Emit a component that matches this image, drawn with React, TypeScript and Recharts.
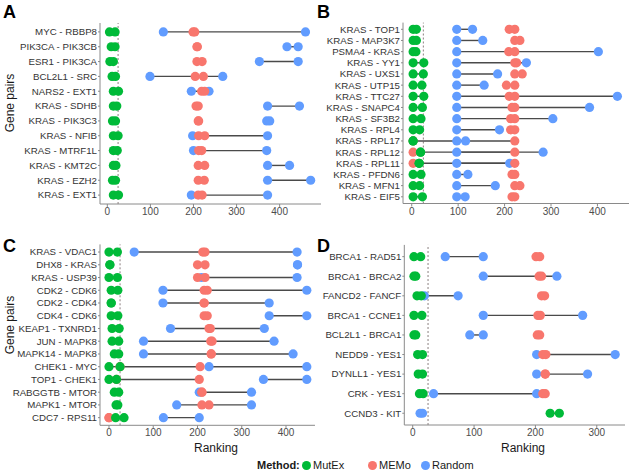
import React from 'react';
import { ScatterChart, Scatter, XAxis, YAxis, ReferenceLine, ErrorBar } from 'recharts';

type Pair = [number, number] | null;

// panel A
const aLabels = ['MYC - RBBP8', 'PIK3CA - PIK3CB', 'ESR1 - PIK3CA', 'BCL2L1 - SRC', 'NARS2 - EXT1', 'KRAS - SDHB',
  'KRAS - PIK3C3', 'KRAS - NFIB', 'KRAS - MTRF1L', 'KRAS - KMT2C', 'KRAS - EZH2', 'KRAS - EXT1'];
const aMutEx: Pair[] = [[5, 18], [9, 18], [6, 14], [11, 19], [14, 26], [14, 22], [12, 19], [14, 25], [14, 23], [14, 20], [12, 19], [14, 26]];
const aMEMo: Pair[] = [[199, 203], [208, 209], [208, 220], [204, 223], [219, 226], [206, 211], [211, 212], [212, 226], [212, 219], [211, 226], [211, 225], [211, 220]];
const aRandom: Pair[] = [[130, 460], [417, 443], [353, 443], [99, 268], [195, 236], [372, 446], [370, 377], [198, 372], [200, 370], [372, 423], [372, 472], [195, 372]];

// panel B
const bLabels = ['KRAS - TOP1', 'KRAS - MAP3K7', 'PSMA4 - KRAS', 'KRAS - YY1', 'KRAS - UXS1', 'KRAS - UTP15', 'KRAS - TTC27',
  'KRAS - SNAPC4', 'KRAS - SF3B2', 'KRAS - RPL4', 'KRAS - RPL17', 'KRAS - RPL12', 'KRAS - RPL11', 'KRAS - PFDN6', 'KRAS - MFN1', 'KRAS - EIF5'];
const bMutEx: Pair[] = [[3, 10], [3, 10], [3, 9], [3, 26], [3, 25], [3, 22], [3, 26], [3, 23], [3, 20], [3, 17], [3, 3], [19, 19], [16, 16], [3, 20], [3, 17], [3, 23]];
const bMEMo: Pair[] = [[210, 222], [222, 233], [209, 222], [222, 226], [222, 238], [204, 222], [210, 222], [216, 222], [213, 222], [213, 222], [3, 222], [3, 222], [3, 222], [216, 222], [222, 233], [216, 222]];
const bRandom: Pair[] = [[97, 131], [97, 153], [97, 402], [97, 247], [97, 185], [97, 156], [97, 443], [97, 383], [97, 304], [97, 189], [97, 116], [97, 283], [97, 211], [97, 121], [97, 180], [97, 115]];

// panel C
const cLabels = ['KRAS - VDAC1', 'DHX8 - KRAS', 'KRAS - USP39', 'CDK2 - CDK6', 'CDK2 - CDK4', 'CDK4 - CDK6', 'KEAP1 - TXNRD1',
  'JUN - MAPK8', 'MAPK14 - MAPK8', 'CHEK1 - MYC', 'TOP1 - CHEK1', 'RABGGTB - MTOR', 'MAPK1 - MTOR', 'CDC7 - RPS11'];
const cMutEx: Pair[] = [[0, 19], [2, 2], [0, 19], [5, 20], [5, 5], [5, 20], [7, 23], [7, 22], [12, 22], [0, 25], [0, 17], [12, 22], [16, 20], [15, 34]];
const cMEMo: Pair[] = [[212, 217], [200, 217], [200, 217], [215, 222], [215, 215], [215, 222], [226, 229], [230, 233], [231, 231], [25, 206], [17, 204], [210, 210], [210, 226], [0, 0]];
const cRandom: Pair[] = [[57, 425], [426, 426], [209, 425], [122, 447], [122, 362], [362, 447], [139, 351], [78, 373], [78, 416], [226, 447], [349, 447], [204, 322], [153, 322], [123, 204]];

// panel D
const dLabels = ['BRCA1 - RAD51', 'BRCA1 - BRCA2', 'FANCD2 - FANCF', 'BRCA1 - CCNE1', 'BCL2L1 - BRCA1', 'NEDD9 - YES1',
  'DYNLL1 - YES1', 'CRK - YES1', 'CCND3 - KIT'];
const dMutEx: Pair[] = [[2, 13], [2, 5], [7, 14], [2, 15], [2, 5], [8, 16], [9, 16], [11, 17], [224, 239]];
const dMEMo: Pair[] = [[201, 207], [206, 210], [210, 215], [204, 208], [203, 207], [212, 217], [216, 216], [212, 216], null];
const dRandom: Pair[] = [[53, 115], [115, 235], [19, 74], [115, 277], [93, 115], [202, 330], [202, 285], [34, 202], [12, 16]];

const xTicks = [0, 100, 200, 300, 400];
const cutoff = 25;

const GREEN = '#00BA38';
const RED = '#F8766D';
const BLUE = '#619CFF';
const FONT = '"Liberation Sans", Arial, sans-serif';

const toPoints = (labels: string[], pairs: Pair[]) =>
  pairs.flatMap((p, i) => (p ? p.map((v) => ({ x: v, y: labels.length - i })) : []));

const toSegments = (labels: string[], series: Pair[][]) =>
  series.flatMap((pairs) =>
    pairs.flatMap((p, i) =>
      p && p[0] !== p[1]
        ? [{ x: Math.min(p[0], p[1]), y: labels.length - i, err: [0, Math.abs(p[1] - p[0])] }]
        : []
    )
  );

const dot = (color: string) => (props: any) =>
  <circle cx={props.cx} cy={props.cy} r={4.6} fill={color} />;

interface PanelProps {
  labels: string[];
  mutex: Pair[];
  memo: Pair[];
  random: Pair[];
  left: number;
  top: number;
  width: number;
  height: number;
  marginTop: number;
  marginRight: number;
  yWidth: number;
  xDomain: [number, number];
  ticks: number[];
}

function Panel({ labels, mutex, memo, random, left, top, width, height, marginTop, marginRight, yWidth, xDomain, ticks }: PanelProps) {
  const n = labels.length;
  const yTicks = labels.map((_, i) => i + 1);
  const yTick = (p: any) => (
    <text x={p.x} y={p.y} dy="0.35em" textAnchor="end" fontSize={9.7} fill="#333" fontFamily={FONT}>
      {labels[n - p.payload.value]}
    </text>
  );
  const xTick = (p: any) => (
    <text x={p.x} y={p.y} dy="0.71em" textAnchor="middle" fontSize={10} fill="#4d4d4d" fontFamily={FONT}>
      {p.payload.value}
    </text>
  );
  return (
    <div style={{ position: 'absolute', left, top }}>
      <ScatterChart width={width} height={height} margin={{ top: marginTop, right: marginRight, bottom: 0, left: 0 }}>
        <XAxis
          type="number"
          dataKey="x"
          domain={xDomain}
          allowDataOverflow
          ticks={ticks}
          height={20}
          tickSize={3}
          tickMargin={1}
          tick={xTick}
          stroke="#8a8a8a"
        />
        <YAxis
          type="number"
          dataKey="y"
          domain={[0.4, n + 0.6]}
          allowDataOverflow
          ticks={yTicks}
          interval={0}
          width={yWidth}
          tickSize={2}
          tickMargin={1}
          tick={yTick}
          stroke="#8a8a8a"
        />
        <ReferenceLine x={cutoff} stroke="#8c8080" strokeDasharray="2 2" strokeWidth={1} />
        <Scatter data={toSegments(labels, [mutex, memo, random])} shape={() => <g />} isAnimationActive={false}>
          <ErrorBar dataKey="err" direction="x" width={0} stroke="#4a4a4a" strokeWidth={1.4} />
        </Scatter>
        <Scatter data={toPoints(labels, random)} shape={dot(BLUE)} isAnimationActive={false} />
        <Scatter data={toPoints(labels, memo)} shape={dot(RED)} isAnimationActive={false} />
        <Scatter data={toPoints(labels, mutex)} shape={dot(GREEN)} isAnimationActive={false} />
      </ScatterChart>
    </div>
  );
}

const letter = (ch: string, x: number, y: number) => (
  <div style={{ position: 'absolute', left: x, top: y, fontSize: 18, fontWeight: 'bold', fontFamily: FONT, lineHeight: '18px' }}>{ch}</div>
);

const text = (t: string, cx: number, cy: number, rotate = false) => (
  <div
    style={{
      position: 'absolute', left: cx, top: cy, fontSize: 12, fontFamily: FONT, color: '#1a1a1a', whiteSpace: 'nowrap',
      transform: `translate(-50%, -50%)${rotate ? ' rotate(-90deg)' : ''}`, lineHeight: '12px',
    }}
  >
    {t}
  </div>
);

const legendItem = (color: string, label: string, x: number) => (
  <div style={{ position: 'absolute', left: x, top: 459, display: 'flex', alignItems: 'center', fontSize: 11, fontFamily: FONT, color: '#1a1a1a' }}>
    <span style={{ width: 9, height: 9, borderRadius: '50%', background: color, display: 'inline-block', marginRight: 2 }} />
    {label}
  </div>
);

export default function App() {
  return (
    <div style={{ position: 'absolute', left: 0, top: 0, width: 633, height: 476, background: '#fff', overflow: 'hidden' }}>
      <Panel labels={aLabels} mutex={aMutEx} memo={aMEMo} random={aRandom}
        left={0} top={0} width={322} height={224} marginTop={23} marginRight={1} yWidth={100}
        xDomain={[-17, 496]} ticks={xTicks} />
      <Panel labels={bLabels} mutex={bMutEx} memo={bMEMo} random={bRandom}
        left={316} top={0} width={317} height={223.5} marginTop={22.6} marginRight={4} yWidth={87}
        xDomain={[-18.8, 468]} ticks={xTicks} />
      <Panel labels={cLabels} mutex={cMutEx} memo={cMEMo} random={cRandom}
        left={0} top={236} width={322} height={209.3} marginTop={8.4} marginRight={7} yWidth={100}
        xDomain={[-20.3, 465.5]} ticks={xTicks} />
      <Panel labels={dLabels} mutex={dMutEx} memo={dMEMo} random={dRandom}
        left={316} top={236} width={317} height={209} marginTop={8.9} marginRight={8} yWidth={88.3}
        xDomain={[-13.7, 346]} ticks={[0, 100, 200, 300]} />

      {letter('A', 3, 3)}
      {letter('B', 317, 3)}
      {letter('C', 3, 237)}
      {letter('D', 317, 237)}

      {text('Gene pairs', 10, 103, true)}
      {text('Gene pairs', 10, 325, true)}
      {text('Ranking', 216, 448)}
      {text('Ranking', 523, 448)}

      <div style={{ position: 'absolute', left: 257, top: 459, fontSize: 11, fontWeight: 'bold', fontFamily: FONT, color: '#1a1a1a' }}>Method:</div>
      {legendItem(GREEN, 'MutEx', 302)}
      {legendItem(RED, 'MEMo', 368)}
      {legendItem(BLUE, 'Random', 421)}
    </div>
  );
}
